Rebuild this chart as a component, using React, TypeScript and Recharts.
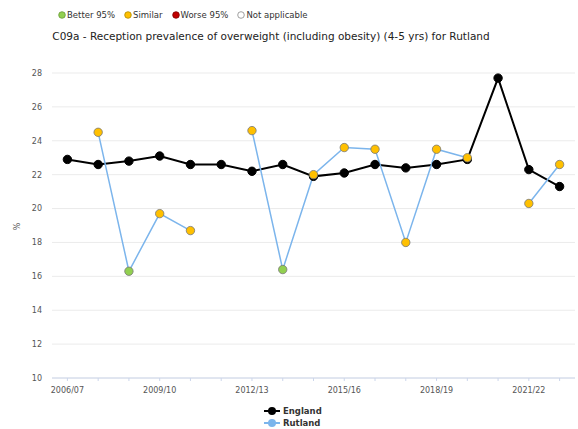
import React from "react";
import { LineChart, Line, XAxis, YAxis, CartesianGrid } from "recharts";

const categories = [
  "2006/07", "2007/08", "2008/09", "2009/10", "2010/11", "2011/12",
  "2012/13", "2013/14", "2014/15", "2015/16", "2016/17", "2017/18",
  "2018/19", "2019/20", "2020/21", "2021/22", "2022/23",
];
const englandValues = [
  22.9, 22.6, 22.8, 23.1, 22.6, 22.6, 22.2, 22.6, 21.9, 22.1, 22.6, 22.4,
  22.6, 22.9, 27.7, 22.3, 21.3,
];
const rutlandValues: (number | null)[] = [
  null, 24.5, 16.3, 19.7, 18.7, null, 24.6, 16.4, 22.0, 23.6, 23.5, 18.0,
  23.5, 23.0, null, 20.3, 22.6,
];
const rutlandSignificance = [
  "na", "similar", "better", "similar", "similar", "na", "similar", "better",
  "similar", "similar", "similar", "similar", "similar", "similar", "na",
  "similar", "similar",
];
const yTicks = [10, 12, 14, 16, 18, 20, 22, 24, 26, 28];
const labelledTicks = ["2006/07", "2009/10", "2012/13", "2015/16", "2018/19", "2021/22"];

const sigColors: Record<string, string> = {
  better: "#92D050",
  similar: "#FFC000",
  worse: "#C00000",
  na: "#FFFFFF",
};

const data = categories.map((c, i) => ({
  year: c,
  england: englandValues[i],
  rutland: rutlandValues[i],
  sig: rutlandSignificance[i],
}));

const FONT = "'DejaVu Sans', sans-serif";

const XTick = (props: any) => {
  const { x, payload } = props;
  const y = 378;
  const show = labelledTicks.includes(payload.value);
  return (
    <g>
      <line x1={x} x2={x} y1={y} y2={y + 3} stroke="#ccd6eb" strokeWidth={1} />
      {show && (
        <text x={x} y={y + 15} textAnchor="middle" fontSize={8} fill="#555" fontFamily={FONT}>
          {payload.value}
        </text>
      )}
    </g>
  );
};

const RutlandDot = (props: any) => {
  const { cx, cy, payload } = props;
  if (payload == null || payload.rutland == null || cx == null || cy == null) return <g />;
  return (
    <circle cx={cx} cy={cy} r={4.2} fill={sigColors[payload.sig]} stroke="#777" strokeWidth={0.8} />
  );
};

const legendItems = [
  { label: "Better 95%", color: sigColors.better, stroke: "#6a9a3a" },
  { label: "Similar", color: sigColors.similar, stroke: "#b08a00" },
  { label: "Worse 95%", color: sigColors.worse, stroke: "#800000" },
  { label: "Not applicable", color: "#FFFFFF", stroke: "#888" },
];

export default function App() {
  return (
    <div style={{ position: "absolute", left: 0, top: 0, width: 578, height: 429, background: "#fff", fontFamily: FONT }}>
      <div style={{ position: "absolute", left: 58, top: 10, display: "flex", alignItems: "center", fontSize: 8.5, color: "#333", whiteSpace: "nowrap" }}>
        {legendItems.map((it) => (
          <span key={it.label} style={{ display: "inline-flex", alignItems: "center", marginRight: 9 }}>
            <svg width={8} height={8} style={{ marginRight: 1 }}>
              <circle cx={4} cy={4} r={3.3} fill={it.color} stroke={it.stroke} strokeWidth={0.8} />
            </svg>
            {it.label}
          </span>
        ))}
      </div>
      <div style={{ position: "absolute", left: 0, width: 578, top: 30, textAlign: "center", fontSize: 10.5, color: "#222", whiteSpace: "nowrap" }}>
        <span style={{ position: "relative", left: -18 }}>
          C09a - Reception prevalence of overweight (including obesity) (4-5 yrs) for Rutland
        </span>
      </div>
      <div style={{ position: "absolute", left: 14, top: 222, fontSize: 8, color: "#555", transform: "rotate(-90deg)" }}>%</div>
      <LineChart
        width={578}
        height={429}
        data={data}
        margin={{ top: 73, right: 3, bottom: 0, left: 0 }}
        style={{ position: "absolute", left: 0, top: 0 }}
      >
        <CartesianGrid vertical={false} stroke="#ebebeb" strokeWidth={1} />
        <XAxis
          dataKey="year"
          interval={0}
          padding={{ left: 15.4, right: 15.4 }}
          tick={<XTick />}
          tickLine={false}
          axisLine={{ stroke: "#ccd6eb" }}
          height={51}
        />
        <YAxis
          domain={[10, 28]}
          ticks={yTicks}
          width={52}
          axisLine={false}
          tickLine={false}
          tickSize={0}
          tickMargin={10}
          tick={{ fontSize: 8, fill: "#555", fontFamily: FONT }}
          allowDataOverflow
        />
        <Line
          dataKey="england"
          stroke="#000"
          strokeWidth={2}
          dot={{ r: 4.2, fill: "#000", stroke: "#000", strokeWidth: 1 }}
          isAnimationActive={false}
        />
        <Line
          dataKey="rutland"
          stroke="#7cb5ec"
          strokeWidth={1.5}
          connectNulls={false}
          dot={<RutlandDot />}
          isAnimationActive={false}
        />
      </LineChart>
      <div style={{ position: "absolute", left: 264, top: 405, fontSize: 8.5, fontWeight: "bold", color: "#333", lineHeight: "12px" }}>
        {[{ l: "England", c: "#000" }, { l: "Rutland", c: "#7cb5ec" }].map((e) => (
          <div key={e.l} style={{ display: "flex", alignItems: "center" }}>
            <svg width={16} height={10} style={{ marginRight: 3 }}>
              <line x1={0} x2={16} y1={5} y2={5} stroke={e.c} strokeWidth={2} />
              <circle cx={8} cy={5} r={4} fill={e.c} />
            </svg>
            {e.l}
          </div>
        ))}
      </div>
    </div>
  );
}
